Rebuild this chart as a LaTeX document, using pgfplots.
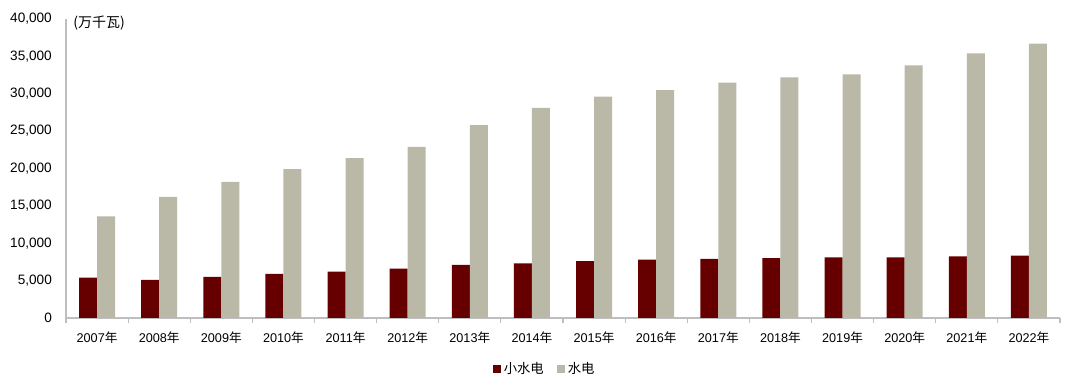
\documentclass[border=0pt]{standalone}
\usepackage{fontspec}
\setmainfont{Liberation Sans}
\newfontfamily\cjk{Noto Sans CJK SC}
\usepackage{pgfplots}
\pgfplotsset{compat=1.18}
\definecolor{darkred}{RGB}{102,0,0}
\definecolor{hgray}{RGB}{186,185,168}
\definecolor{axgray}{RGB}{190,190,190}
\begin{document}
\fontsize{9.5pt}{11pt}\selectfont
\begin{tikzpicture}
\path[use as bounding box] (-49.5pt,-55.5pt) rectangle (760.5pt,238.5pt);
\begin{axis}[
  at={(0,0)}, anchor=south west,
  scale only axis,
  width=745.5pt, height=224.25pt,
  xmin=-0.5, xmax=15.5,
  ymin=0, ymax=40000,
  ytick={0,5000,...,40000},
  axis x line=bottom, axis y line=left,
  axis line style={axgray, line width=0.8pt, -},
  ytick style={draw=none},
  xtick={0,...,15},
  xticklabels={2007{\cjk 年},2008{\cjk 年},2009{\cjk 年},2010{\cjk 年},2011{\cjk 年},2012{\cjk 年},2013{\cjk 年},2014{\cjk 年},2015{\cjk 年},2016{\cjk 年},2017{\cjk 年},2018{\cjk 年},2019{\cjk 年},2020{\cjk 年},2021{\cjk 年},2022{\cjk 年}},
  major x tick style={draw=none},
  minor xtick={-0.5,0.5,...,15.5},
  minor x tick style={axgray, line width=0.8pt},
  minor tick length=4pt,
  tick align=outside,
  xticklabel style={font=\fontsize{9.5pt}{11pt}\selectfont, yshift=-3pt},
  yticklabel style={font=\fontsize{10.2pt}{12pt}\selectfont, xshift=-3pt},
  /pgf/number format/assume math mode=true,
  /pgf/number format/.cd, 1000 sep={,}, /pgfplots/.cd,
  scaled y ticks=false,
  ybar, bar width=13.5pt,
  legend style={at={(0.482,-0.17)}, anchor=center, draw=none, legend columns=2,
    font=\cjk\fontsize{10pt}{12pt}\selectfont,
    /tikz/every even column/.append style={column sep=8pt}},
  legend image code/.code={\fill[#1] (0pt,-3pt) rectangle (6pt,3pt);},
  clip=false,
]
\addplot[fill=darkred, draw=none, bar shift=-6.75pt] coordinates {
(0,5400) (1,5100) (2,5500) (3,5900) (4,6200) (5,6600) (6,7100) (7,7300)
(8,7600) (9,7800) (10,7900) (11,8000) (12,8100) (13,8100) (14,8250) (15,8350)};
\addplot[fill=hgray, draw=none, bar shift=6.75pt] coordinates {
(0,13600) (1,16200) (2,18200) (3,19900) (4,21400) (5,22900) (6,25800) (7,28100)
(8,29600) (9,30500) (10,31500) (11,32200) (12,32600) (13,33800) (14,35400) (15,36700)};
\legend{小水电,水电}
\node[anchor=west, font=\cjk\fontsize{10.5pt}{12pt}\selectfont] at (rel axis cs:0.003,0.985) {(万千瓦)};
\end{axis}
\end{tikzpicture}
\end{document}
